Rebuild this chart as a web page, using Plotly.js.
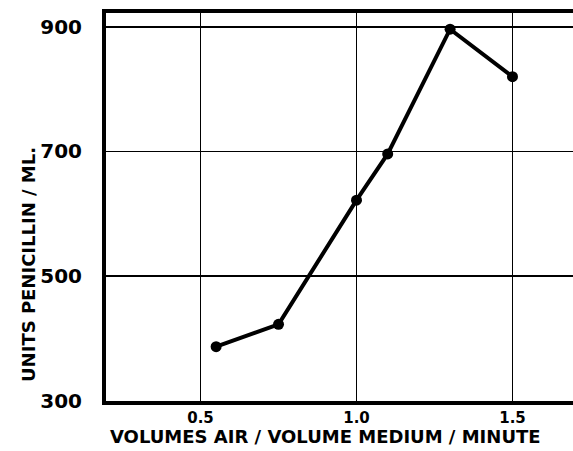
<!DOCTYPE html>
<html>
<head>
<meta charset="utf-8">
<script src="https://cdn.plot.ly/plotly-3.0.1.min.js"></script>
<style>html,body{margin:0;padding:0;background:#fff;}</style>
</head>
<body>
<div id="chart" style="width:573px;height:451px;"></div>
<script>
const airRate = [0.55, 0.75, 1.0, 1.1, 1.3, 1.5];
const penicillin = [387, 423, 622, 696, 896, 820];
const xTickVals = [0.5, 1.0, 1.5];
const xTickText = ["0.5", "1.0", "1.5"];
const yTickVals = [300, 500, 700, 900];
const yTickText = ["300", "500", "700", "900"];
const xTitle = "VOLUMES AIR / VOLUME MEDIUM / MINUTE";
const yTitle = "UNITS PENICILLIN / ML.";

const font = "DejaVu Sans, Verdana, sans-serif";

const trace = {
  x: airRate, y: penicillin, type: "scatter", mode: "lines+markers",
  line: {color: "#000", width: 4},
  marker: {color: "#000", size: 11},
  showlegend: false, hoverinfo: "skip"
};

const layout = {
  width: 573, height: 451,
  margin: {l: 106, r: 0, t: 13, b: 50},
  paper_bgcolor: "#fff", plot_bgcolor: "#fff",
  font: {family: font, color: "#000"},
  xaxis: {
    range: [0.197, 1.694], tickvals: xTickVals, ticktext: xTickText,
    showgrid: true, gridcolor: "#000", gridwidth: 1.6,
    showline: true, linecolor: "#000", linewidth: 4, mirror: true,
    zeroline: false, ticks: "", ticklabelstandoff: 0,
    tickfont: {family: font, size: 15, color: "#000", weight: "bold"}
  },
  yaxis: {
    range: [300, 922], tickvals: yTickVals, ticktext: yTickText,
    showgrid: true, gridcolor: "#000", gridwidth: 1.6,
    showline: true, linecolor: "#000", linewidth: 4, mirror: false,
    zeroline: false, ticks: "", ticklabelstandoff: 16,
    tickfont: {family: font, size: 20, color: "#000", weight: "bold"}
  },
  annotations: [
    {text: "<b>" + xTitle + "</b>", xref: "paper", yref: "paper",
     x: (325 - 106) / 467, y: -0.058, xanchor: "center", yanchor: "top",
     showarrow: false, font: {family: font, size: 18, color: "#000"}},
    {text: "<b>" + yTitle + "</b>", xref: "paper", yref: "paper",
     x: (28 - 106) / 467, y: (401 - 265) / 388, xanchor: "center", yanchor: "middle",
     textangle: -90, showarrow: false, font: {family: font, size: 18, color: "#000"}}
  ]
};

Plotly.newPlot("chart", [trace], layout, {staticPlot: true, displayModeBar: false});
</script>
</body>
</html>
